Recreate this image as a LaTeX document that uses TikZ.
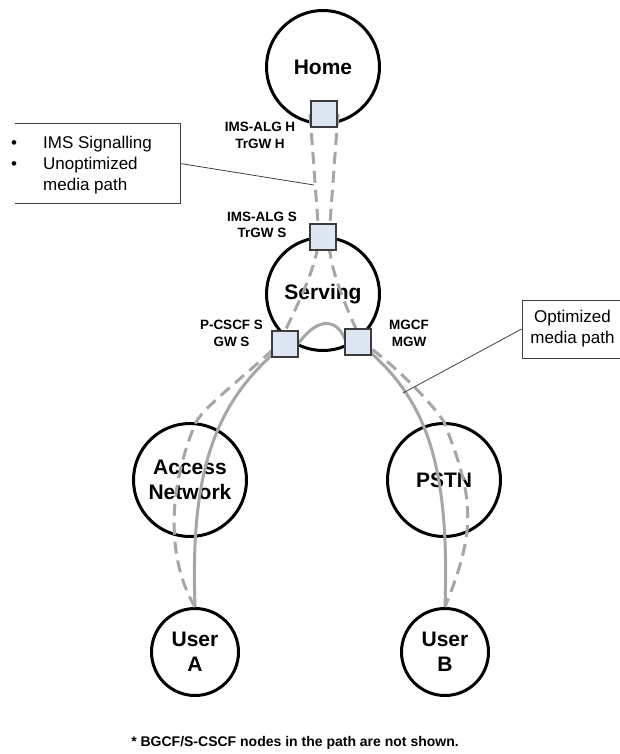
\documentclass[tikz,border=0pt]{standalone}
\usepackage{fontspec}
\setmainfont{Liberation Sans}
\usepackage{tikz}

\definecolor{pathgrey}{RGB}{166,166,166}
\definecolor{gwfill}{RGB}{221,231,243}
\definecolor{gwdraw}{RGB}{60,60,60}

\begin{document}
\begin{tikzpicture}[x=1pt,y=-1pt,
    netcircle/.style={circle,draw,line width=3pt,minimum size=113pt,inner sep=0pt,
      align=center,font=\fontsize{21}{25}\selectfont\bfseries},
    usercircle/.style={netcircle,minimum size=87pt},
    gw/.style={rectangle,draw=gwdraw,fill=gwfill,line width=1.2pt,minimum size=26pt,inner sep=0pt},
    gwlabel/.style={align=center,inner sep=0pt,font=\fontsize{13.5}{16.5}\selectfont\bfseries},
    signal/.style={pathgrey,line width=3pt,dash pattern=on 12pt off 7pt},
    media/.style={pathgrey,line width=3pt},
    callout/.style={draw=black!75,line width=0.8pt},
    callouttext/.style={inner sep=0pt,font=\fontsize{17}{21}\selectfont}]

    \useasboundingbox (0,0) rectangle (619,754);



    \node[netcircle] (home) at (323,67) {Home};

    \node[netcircle] (serving) at (323,294) {Serving};

    \node[netcircle] (access) at (190,480) {Access\\Network};

    \node[netcircle] (pstn) at (444,480) {PSTN};

    \node[usercircle] (usera) at (195,652) {User\\A};

    \node[usercircle] (userb) at (445,652) {User\\B};



    \coordinate (algH) at (324,114);
    \coordinate (algS) at (323,237);
    \coordinate (pcscf) at (285,344);
    \coordinate (mgcf) at (358,342);



    \draw[signal] ([xshift=-14pt]algH) -- ([xshift=-4pt]algS)
      .. controls (317,270) and (292,315) .. ([xshift=-6pt]pcscf)
      .. controls (245,376) and (206,405) .. ([xshift=6pt]access.north)
      .. controls (167,490) and (167,560) .. (usera.north);

    \draw[signal] ([xshift=14pt]algH) -- ([xshift=6pt]algS)
      .. controls (328,265) and (344,303) .. ([xshift=4pt]mgcf)
      .. controls (390,361) and (430,400) .. (pstn.north)
      .. controls (475,500) and (476,530) .. (userb.north);



    \draw[media] (pcscf) .. controls (215,400) and (190,470) .. (usera.north);

    \draw[media] ([xshift=13pt]pcscf) .. controls (318,316) and (338,318) .. ([xshift=-12pt]mgcf);

    \draw[media] (mgcf) .. controls (425,395) and (450,460) .. (userb.north);



    \node[gw] (algHbox) at (algH) {};
    \node[gw] (algSbox) at (algS) {};
    \node[gw] (pcscfbox) at (pcscf) {};
    \node[gw] (mgcfbox) at (mgcf) {};

    \node[gwlabel] (algHlabel) at (260,135.5) {IMS-ALG H\\TrGW H};
    \node[gwlabel] (algSlabel) at (262,225) {IMS-ALG S\\TrGW S};
    \node[gwlabel] (pcscflabel) at (231.5,333.5) {P-CSCF S\\GW S};
    \node[gwlabel] (mgcflabel) at (409,333.5) {MGCF\\MGW};



    \node[minimum width=165pt,minimum height=79pt,inner sep=0pt] (sigbox) at (97.5,163.5) {};
    \draw[callout] (sigbox.north west) -- (sigbox.north east) -- (sigbox.south east) -- (sigbox.south west);
    \node[callouttext,anchor=north west] (sigtext) at (11,133.3)
      {\begin{tabular}{@{}p{32pt}@{}l@{}}
        \textbullet & IMS Signalling\\
        \textbullet & Unoptimized\\
                    & media path
      \end{tabular}};
    \coordinate (sigtip) at (314,185);
    \draw[callout] (sigbox.east) -- (sigtip);



    \node[callout,minimum width=120pt,minimum height=58pt] (optbox) at (582,329) {};
    \node[callouttext,align=center] (opttext) at (572.5,329) {Optimized\\media path};
    \coordinate (opttip) at (403,393);
    \draw[callout] (optbox.west) -- (opttip);



    \node[font=\fontsize{14}{16}\selectfont\bfseries] (note) at (295,743)
      {* BGCF/S-CSCF nodes in the path are not shown.};

\end{tikzpicture}
\end{document}
